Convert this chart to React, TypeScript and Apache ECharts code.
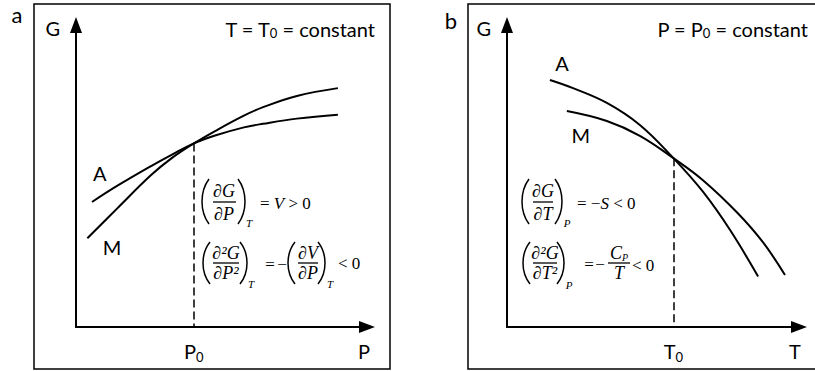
import React, { useEffect, useRef } from 'react';
import * as echarts from 'echarts';

// Panel a: G vs P at constant T
const PA_P_A = [0.55, 1.41, 2.58, 3.3, 4.05, 4.78, 5.77, 6.43, 7.59, 9.0];
const PA_G_A = [4.14, 4.67, 5.33, 5.71, 6.08, 6.34, 6.61, 6.73, 6.9, 7.03];
const PA_P_M = [0.39, 1.41, 2.58, 3.3, 4.05, 4.78, 5.77, 6.43, 7.59, 9.0];
const PA_G_M = [2.94, 3.92, 5.03, 5.6, 6.08, 6.49, 7.0, 7.28, 7.65, 7.91];
const P0 = 4.05;
const G0_A = 6.08;
const P_END = 9.9;
const G_END = 9.9;

// Panel b: G vs T at constant P
const PB_T_A = [1.47, 2.26, 3.42, 4.55, 5.7, 6.71, 7.64, 8.6];
const PB_G_A = [8.18, 7.91, 7.42, 6.69, 5.59, 4.48, 3.21, 1.67];
const PB_T_M = [2.05, 3.42, 4.55, 5.7, 6.71, 7.88, 8.77, 9.52];
const PB_G_M = [7.15, 6.82, 6.33, 5.59, 4.86, 3.79, 2.8, 1.72];
const T0 = 5.7;
const G0_B = 5.59;
const T_END = 9.86;

// Curve label anchors (data coordinates)
const LABEL_A_A = [0.82, 5.1];
const LABEL_A_M = [1.24, 2.65];
const LABEL_B_A = [1.88, 8.74];
const LABEL_B_M = [2.53, 6.36];

const FONT_SANS = 'Lato, "Open Sans", "Noto Sans", sans-serif';
const FONT_MATH = '"Liberation Serif", "DejaVu Serif", serif';
const SANS = 20;
const MATH = 17;
const FRAC = 18;

const zip = (xs: number[], ys: number[]) => xs.map((x, i) => [x, ys[i]]);

const mathRich = {
  i: { fontFamily: FONT_MATH, fontSize: MATH, fontStyle: 'italic', fill: '#000' },
  n: { fontFamily: FONT_MATH, fontSize: MATH, fill: '#000' },
  c: { fontFamily: FONT_MATH, fontSize: FRAC, fontStyle: 'italic', fill: '#000' },
  s: { fontFamily: FONT_MATH, fontSize: 10, fontStyle: 'italic', verticalAlign: 'bottom', lineHeight: 12 },
};

function t(x: number, y: number, text: string, size: number, opts: any = {}) {
  return {
    type: 'text',
    x,
    y,
    silent: true,
    style: {
      text,
      fontFamily: opts.family || FONT_MATH,
      fontSize: size,
      fontStyle: opts.italic === false ? 'normal' : 'italic',
      fill: '#000',
      align: opts.align || 'center',
      verticalAlign: 'middle',
      rich: opts.rich,
    },
  };
}

function paren(x: number, top: number, bot: number, left: boolean) {
  const h = bot - top;
  const w = 7;
  const shape = left
    ? { x1: x + w, y1: top, x2: x + w, y2: bot, cpx1: x - w / 3, cpy1: top + h * 0.28, cpx2: x - w / 3, cpy2: bot - h * 0.28 }
    : { x1: x, y1: top, x2: x, y2: bot, cpx1: x + w + w / 3, cpy1: top + h * 0.28, cpx2: x + w + w / 3, cpy2: bot - h * 0.28 };
  return { type: 'bezierCurve', silent: true, shape, style: { stroke: '#000', lineWidth: 1.5, fill: 'none' } };
}

function bar(x1: number, x2: number, y: number) {
  return { type: 'line', silent: true, shape: { x1, y1: y, x2, y2: y }, style: { stroke: '#000', lineWidth: 1.3 } };
}

const sub = {
  i: { fontFamily: FONT_SANS, fontSize: SANS },
  s: { fontFamily: FONT_SANS, fontSize: 13, verticalAlign: 'bottom', lineHeight: 14 },
};

function axisLabelRich() {
  return {
    t: { fontFamily: FONT_SANS, fontSize: SANS, color: '#000', lineHeight: 24, verticalAlign: 'middle' },
    s: { fontFamily: FONT_SANS, fontSize: 13, color: '#000', lineHeight: 14, verticalAlign: 'bottom' },
  };
}

function xAxisCfg(gridIndex: number, v0: number, vEnd: number, name: string) {
  return {
    type: 'value',
    gridIndex,
    min: 0,
    max: 10,
    splitLine: { show: false },
    axisTick: { show: false },
    axisLine: {
      show: true,
      symbol: ['none', 'triangle'],
      symbolSize: [12, 16],
      lineStyle: { color: '#000', width: 2 },
    },
    axisLabel: {
      show: true,
      customValues: [v0, vEnd],
      margin: 12,
      formatter: (v: number) => (Math.abs(v - v0) < 1e-6 ? `{t|${name}}{s|0}` : `{t|${name}}`),
      rich: axisLabelRich(),
    },
  };
}

function yAxisCfg(gridIndex: number) {
  return {
    type: 'value',
    gridIndex,
    min: 0,
    max: 10,
    splitLine: { show: false },
    axisTick: { show: false },
    axisLine: {
      show: true,
      symbol: ['none', 'triangle'],
      symbolSize: [12, 16],
      lineStyle: { color: '#000', width: 2 },
    },
    axisLabel: {
      show: true,
      customValues: [G_END],
      margin: 16,
      formatter: () => '{t|G}',
      rich: axisLabelRich(),
    },
  };
}

function curve(name: string, data: number[][], xi: number, label: number[], dash?: { x: number; y: number }) {
  const s: any = {
    type: 'line',
    name,
    xAxisIndex: xi,
    yAxisIndex: xi,
    data,
    smooth: 0.4,
    showSymbol: false,
    symbol: 'none',
    lineStyle: { color: '#000', width: 2 },
    silent: true,
    markPoint: {
      symbol: 'circle',
      symbolSize: 1,
      itemStyle: { color: 'rgba(0,0,0,0)' },
      label: { show: true, position: 'inside', formatter: name, color: '#000', fontFamily: FONT_SANS, fontSize: SANS },
      data: [{ coord: label }],
    },
  };
  if (dash) {
    s.markLine = {
      symbol: 'none',
      silent: true,
      label: { show: false },
      lineStyle: { color: '#000', width: 1.5, type: [8, 4] },
      data: [[{ coord: [dash.x, dash.y] }, { coord: [dash.x, 0] }]],
    };
  }
  return s;
}

export default function App() {
  const ref = useRef<HTMLDivElement>(null);
  useEffect(() => {
    if (!ref.current) return;
    const chart = echarts.init(ref.current, undefined, { renderer: 'svg' });
    const graphic: any[] = [
      { type: 'rect', silent: true, shape: { x: 34, y: 4, width: 356, height: 365 }, style: { fill: 'none', stroke: '#000', lineWidth: 1.5 } },
      { type: 'rect', silent: true, shape: { x: 468, y: 4, width: 352, height: 365 }, style: { fill: 'none', stroke: '#000', lineWidth: 1.5 } },
      t(17, 14, 'a', 22, { family: FONT_SANS, italic: false }),
      t(451, 20, 'b', 22, { family: FONT_SANS, italic: false }),
      {
        type: 'text', x: 375, y: 29, silent: true,
        style: { text: '{i|T = T}{s|0}{i| = constant}', align: 'right', verticalAlign: 'middle', fill: '#000', fontFamily: FONT_SANS, fontSize: SANS, rich: sub },
      },
      {
        type: 'text', x: 808, y: 29, silent: true,
        style: { text: '{i|P = P}{s|0}{i| = constant}', align: 'right', verticalAlign: 'middle', fill: '#000', fontFamily: FONT_SANS, fontSize: SANS, rich: sub },
      },
      // Panel a, formula 1
      paren(202, 179, 224, true),
      t(224, 191, '∂G', FRAC),
      bar(213, 236, 202),
      t(224, 214, '∂P', FRAC),
      paren(238, 179, 224, false),
      t(249, 223, 'T', 11),
      t(260, 203, '{n|= }{i|V}{n| > 0}', MATH, { align: 'left', rich: mathRich }),
      // Panel a, formula 2
      paren(203, 242, 284, true),
      t(226, 253, '∂²G', FRAC),
      bar(213, 239, 263),
      t(226, 273, '∂P²', FRAC),
      paren(240, 242, 284, false),
      t(251, 284, 'T', 11),
      t(270, 264, '=', MATH, { italic: false }),
      t(282, 264, '−', MATH, { italic: false }),
      paren(288, 242, 284, true),
      t(308, 253, '∂V', FRAC),
      bar(298, 318, 263),
      t(308, 273, '∂P', FRAC),
      paren(318, 242, 284, false),
      t(330, 284, 'T', 11),
      t(338, 263, '< 0', MATH, { align: 'left', italic: false }),
      // Panel b, formula 1
      paren(522, 179, 224, true),
      t(543, 191, '∂G', FRAC),
      bar(533, 553, 202),
      t(543, 214, '∂T', FRAC),
      paren(555, 179, 224, false),
      t(567, 223, 'P', 11),
      t(577, 203, '{n|= −}{i|S}{n| < 0}', MATH, { align: 'left', rich: mathRich }),
      // Panel b, formula 2
      paren(523, 242, 284, true),
      t(545, 253, '∂²G', FRAC),
      bar(533, 557, 263),
      t(545, 273, '∂T²', FRAC),
      paren(557, 242, 284, false),
      t(569, 285, 'P', 11),
      t(589, 264, '=', MATH, { italic: false }),
      t(600, 264, '−', MATH, { italic: false }),
      t(619, 253, '{c|C}{s|P}', FRAC, { rich: mathRich }),
      bar(608, 630, 263),
      t(619, 273, 'T', FRAC),
      t(632, 265, '< 0', MATH, { align: 'left', italic: false }),
    ];

    chart.setOption({
      animation: false,
      backgroundColor: '#fff',
      grid: [
        { left: 76, top: 25, width: 291, height: 302 },
        { left: 507, top: 25, width: 292, height: 302 },
      ],
      xAxis: [xAxisCfg(0, P0, P_END, 'P'), xAxisCfg(1, T0, T_END, 'T')],
      yAxis: [yAxisCfg(0), yAxisCfg(1)],
      series: [
        curve('A', zip(PA_P_A, PA_G_A), 0, LABEL_A_A, { x: P0, y: G0_A }),
        curve('M', zip(PA_P_M, PA_G_M), 0, LABEL_A_M),
        curve('A', zip(PB_T_A, PB_G_A), 1, LABEL_B_A, { x: T0, y: G0_B }),
        curve('M', zip(PB_T_M, PB_G_M), 1, LABEL_B_M),
      ],
      graphic,
    });
    return () => chart.dispose();
  }, []);
  return <div ref={ref} style={{ position: 'fixed', left: 0, top: 0, width: 815, height: 371 }} />;
}
